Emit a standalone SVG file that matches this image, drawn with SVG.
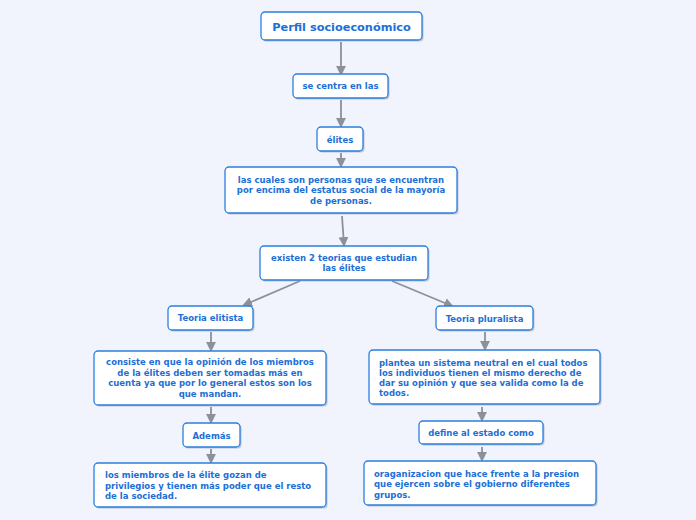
<svg xmlns="http://www.w3.org/2000/svg" width="696" height="520" viewBox="0 0 696 520">
<style>
.bx{fill:#fff;stroke:#2a7fe0;stroke-width:1.3}
.sh{fill:#9aa4b4;opacity:0.6}
.t{font-family:"DejaVu Sans",Verdana,sans-serif;font-weight:bold;font-size:8.5px;fill:#1d6fd6}
.c{text-anchor:middle}
.cn{stroke:#8c9099;stroke-width:1.8;fill:none;marker-end:url(#ah)}
</style>
<defs>
<marker id="ah" viewBox="0 0 10 10" refX="8" refY="5" markerWidth="5.5" markerHeight="5.5" orient="auto" markerUnits="strokeWidth">
<path d="M0,0L10,5L0,10z" fill="#8c9099"/>
</marker>
</defs>
<rect width="696" height="520" fill="#f1f4fc"/>
<g id="connectors">
<path class="cn" d="M341,42V74"/>
<path class="cn" d="M341,100V126"/>
<path class="cn" d="M341,153V166"/>
<path class="cn" d="M342,216L344,245"/>
<path class="cn" d="M300,281L244,305"/>
<path class="cn" d="M392,281L452,306"/>
<path class="cn" d="M211,332V350"/>
<path class="cn" d="M211,407V422"/>
<path class="cn" d="M211,449V462"/>
<path class="cn" d="M485,332V349"/>
<path class="cn" d="M482,407V420"/>
<path class="cn" d="M482,447V460"/>
</g>
<g id="n1"><rect class="sh" x="262.5" y="13.5" width="161" height="28" rx="4"/><rect class="bx" x="261" y="12" width="161" height="28" rx="4"/><text class="t c" x="341.5" y="30.5" style="font-size:11.3px">Perfil socioeconómico</text></g>
<g id="n2"><rect class="sh" x="294.5" y="75.5" width="95" height="24" rx="4"/><rect class="bx" x="293" y="74" width="95" height="24" rx="4"/><text class="t c" x="340.5" y="89">se centra en las</text></g>
<g id="n3"><rect class="sh" x="318.5" y="128.5" width="46" height="24" rx="4"/><rect class="bx" x="317" y="127" width="46" height="24" rx="4"/><text class="t c" x="340" y="142.5">élites</text></g>
<g id="n4"><rect class="sh" x="226.5" y="168.5" width="232" height="46" rx="4"/><rect class="bx" x="225" y="167" width="232" height="46" rx="4"/><text class="t c" x="341" y="183"><tspan x="341">las cuales son personas que se encuentran</tspan><tspan x="341" dy="10.4">por encima del estatus social de la mayoría</tspan><tspan x="341" dy="10.4">de personas.</tspan></text></g>
<g id="n5"><rect class="sh" x="261.5" y="247.5" width="168" height="34" rx="4"/><rect class="bx" x="260" y="246" width="168" height="34" rx="4"/><text class="t c" x="344" y="260.5"><tspan x="344">existen 2 teorias que estudian</tspan><tspan x="344" dy="10.6">las élites</tspan></text></g>
<g id="n6"><rect class="sh" x="169.5" y="307.5" width="85" height="24" rx="4"/><rect class="bx" x="168" y="306" width="85" height="24" rx="4"/><text class="t c" x="210.5" y="321">Teoria elitista</text></g>
<g id="n7"><rect class="sh" x="95.5" y="352.5" width="232" height="54" rx="4"/><rect class="bx" x="94" y="351" width="232" height="54" rx="4"/><text class="t c" x="210" y="365"><tspan x="210">consiste en que la opinión de los miembros</tspan><tspan x="210" dy="10.5">de la élites deben ser tomadas más en</tspan><tspan x="210" dy="10.5">cuenta ya que por lo general estos son los</tspan><tspan x="210" dy="10.5">que mandan.</tspan></text></g>
<g id="n8"><rect class="sh" x="184.5" y="424.5" width="57" height="24" rx="4"/><rect class="bx" x="183" y="423" width="57" height="24" rx="4"/><text class="t c" x="211.5" y="438.5">Además</text></g>
<g id="n9"><rect class="sh" x="95.5" y="464.5" width="232" height="44" rx="4"/><rect class="bx" x="94" y="463" width="232" height="44" rx="4"/><text class="t" x="105" y="478"><tspan x="105">los miembros de la élite gozan de</tspan><tspan x="105" dy="10.5">privilegios y tienen más poder que el resto</tspan><tspan x="105" dy="10.5">de la sociedad.</tspan></text></g>
<g id="n10"><rect class="sh" x="437.5" y="307.5" width="97" height="24" rx="4"/><rect class="bx" x="436" y="306" width="97" height="24" rx="4"/><text class="t c" x="484.5" y="321.5">Teoria pluralista</text></g>
<g id="n11"><rect class="sh" x="370.5" y="351.5" width="231" height="54" rx="4"/><rect class="bx" x="369" y="350" width="231" height="54" rx="4"/><text class="t" x="379" y="365.5"><tspan x="379">plantea un sistema neutral en el cual todos</tspan><tspan x="379" dy="10.3">los individuos tienen el mismo derecho de</tspan><tspan x="379" dy="10.3">dar su opinión y que sea valida como la de</tspan><tspan x="379" dy="10.3">todos.</tspan></text></g>
<g id="n12"><rect class="sh" x="420.5" y="422.5" width="124" height="23" rx="4"/><rect class="bx" x="419" y="421" width="124" height="23" rx="4"/><text class="t c" x="481" y="435.5">define al estado como</text></g>
<g id="n13"><rect class="sh" x="365.5" y="462.5" width="232" height="44" rx="4"/><rect class="bx" x="364" y="461" width="232" height="44" rx="4"/><text class="t" x="374" y="476.5"><tspan x="374">oraganizacion que hace frente a la presion</tspan><tspan x="374" dy="10.5">que ejercen sobre el gobierno diferentes</tspan><tspan x="374" dy="10.5">grupos.</tspan></text></g>
</svg>
